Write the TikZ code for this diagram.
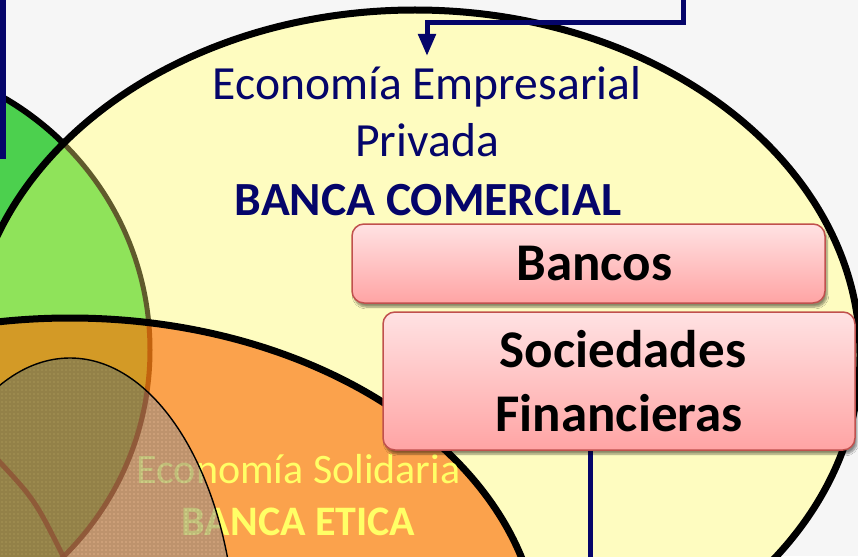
\documentclass[tikz,border=0pt]{standalone}
\usepackage{fontspec}
\setmainfont{Carlito}
\usetikzlibrary{shadows.blur,arrows.meta}
\definecolor{bgcol}{HTML}{F6F6F6}
\definecolor{navy}{HTML}{05056A}
\definecolor{greenout}{HTML}{4CD04E}
\definecolor{greenin}{HTML}{8FE35A}
\definecolor{olive}{HTML}{605A2C}
\definecolor{yellowfill}{HTML}{FEFCC0}
\definecolor{orangefill}{HTML}{FBA24C}
\definecolor{orangegreen}{HTML}{D39A26}
\definecolor{orangeline}{HTML}{C2620E}
\definecolor{texgray}{HTML}{9F9EA4}
\definecolor{texolive}{HTML}{9C8A4E}
\definecolor{texline}{HTML}{8E5436}
\definecolor{texgrid}{HTML}{5A4020}
\definecolor{soltext}{HTML}{FFFF66}
\definecolor{boxtop}{HTML}{FFE2E3}
\definecolor{boxbot}{HTML}{FFA4A4}
\definecolor{boxborder}{HTML}{C0504D}
\def\greenpath{(-145,350) ellipse [x radius=295pt, y radius=292pt]}
\def\yellowpath{(415,355) ellipse [x radius=445pt, y radius=345pt]}
\def\orangepath{(70,650) ellipse [x radius=470pt, y radius=332pt]}
\def\texpath{(70,650) ellipse [x radius=166pt, y radius=292pt]}
\begin{document}
\begin{tikzpicture}[x=1pt,y=-1pt,
  conn/.style={draw=navy, line width=5pt},
  boxstyle/.style={draw=boxborder, line width=1.5pt, rounded corners=12pt,
    top color=boxtop, bottom color=boxbot,
    blur shadow={shadow xshift=2pt, shadow yshift=-4pt, shadow opacity=45, shadow blur steps=6},
    font=\bfseries\fontsize{53}{64}\selectfont, align=center, inner sep=0pt},
  emptext/.style={anchor=base, text=navy, font=\fontsize{47.6}{57}\selectfont},
  soltxt/.style={anchor=base, text=soltext, font=\fontsize{42}{50}\selectfont}]
\useasboundingbox (0,0) rectangle (858,556);
\fill[bgcol] (0,0) rectangle (858,556);
% green circle
\fill[greenout] \greenpath;
\draw[black, line width=6pt] \greenpath;
% yellow ellipse
\fill[yellowfill] \yellowpath;
\begin{scope}
  \clip \yellowpath;
  \fill[greenin] \greenpath;
  \draw[olive, line width=5pt] \greenpath;
\end{scope}
\draw[black, line width=7pt] \yellowpath;
% orange ellipse
\fill[orangefill] \orangepath;
\begin{scope}
  \clip \orangepath;
  \fill[orangegreen] \greenpath;
  \draw[orangeline, line width=5pt] \greenpath;
\end{scope}
\draw[black, line width=7pt] \orangepath;
% solidaria texts
\node[soltxt] (sol1) at (298.5,483) {Economía Solidaria};
\node[soltxt, font=\bfseries\fontsize{42}{50}\selectfont] (sol2) at (298.5,535) {BANCA ETICA};
% textured ellipse
\begin{scope}
  \clip \texpath;
  \fill[texgray, fill opacity=0.5] \texpath;
  \begin{scope}
    \clip \greenpath;
    \fill[texolive] \texpath;
  \end{scope}
  \draw[texgrid, opacity=0.12, line width=1.2pt, step=4pt] (-10,340) grid (260,560);
  \draw[texline, line width=5pt, opacity=0.85] \greenpath;
  \draw[texline, line width=5pt, opacity=0.85] (-4,458) .. controls (35,500) .. (64,558);
\end{scope}
\draw[black, line width=1.4pt] \texpath;
% empresarial texts
\node[emptext] (emp1) at (427,100) {Economía Empresarial};
\node[emptext] (emp2) at (427,157) {Privada};
\node[emptext, font=\bfseries\fontsize{47.6}{57}\selectfont] (emp3) at (428,215) {BANCA COMERCIAL};
% connectors
\coordinate (leftstart) at (3,-6);
\coordinate (leftend) at (3,159);
\draw[navy, line width=6pt] (leftstart) -- (leftend);
\coordinate (topstart) at (683,-6);
\coordinate (topbend) at (683,23);
\coordinate (arrowtip) at (427,56);
\draw[conn, -{Triangle[width=17pt,length=22pt]}] (topstart) -- (topbend) -| (arrowtip);
% boxes
\node[boxstyle, minimum width=473pt, minimum height=79pt] (bancos) at (588.5,263.5) {\hspace*{12pt}Bancos};
\coordinate (botend) at (590,562);
\draw[conn] (botend) -- (botend |- 0,449);
\node[boxstyle, minimum width=472pt, minimum height=138pt] (soc) at (619,381) {\hspace*{8pt}Sociedades\\Financieras};
\end{tikzpicture}
\end{document}
